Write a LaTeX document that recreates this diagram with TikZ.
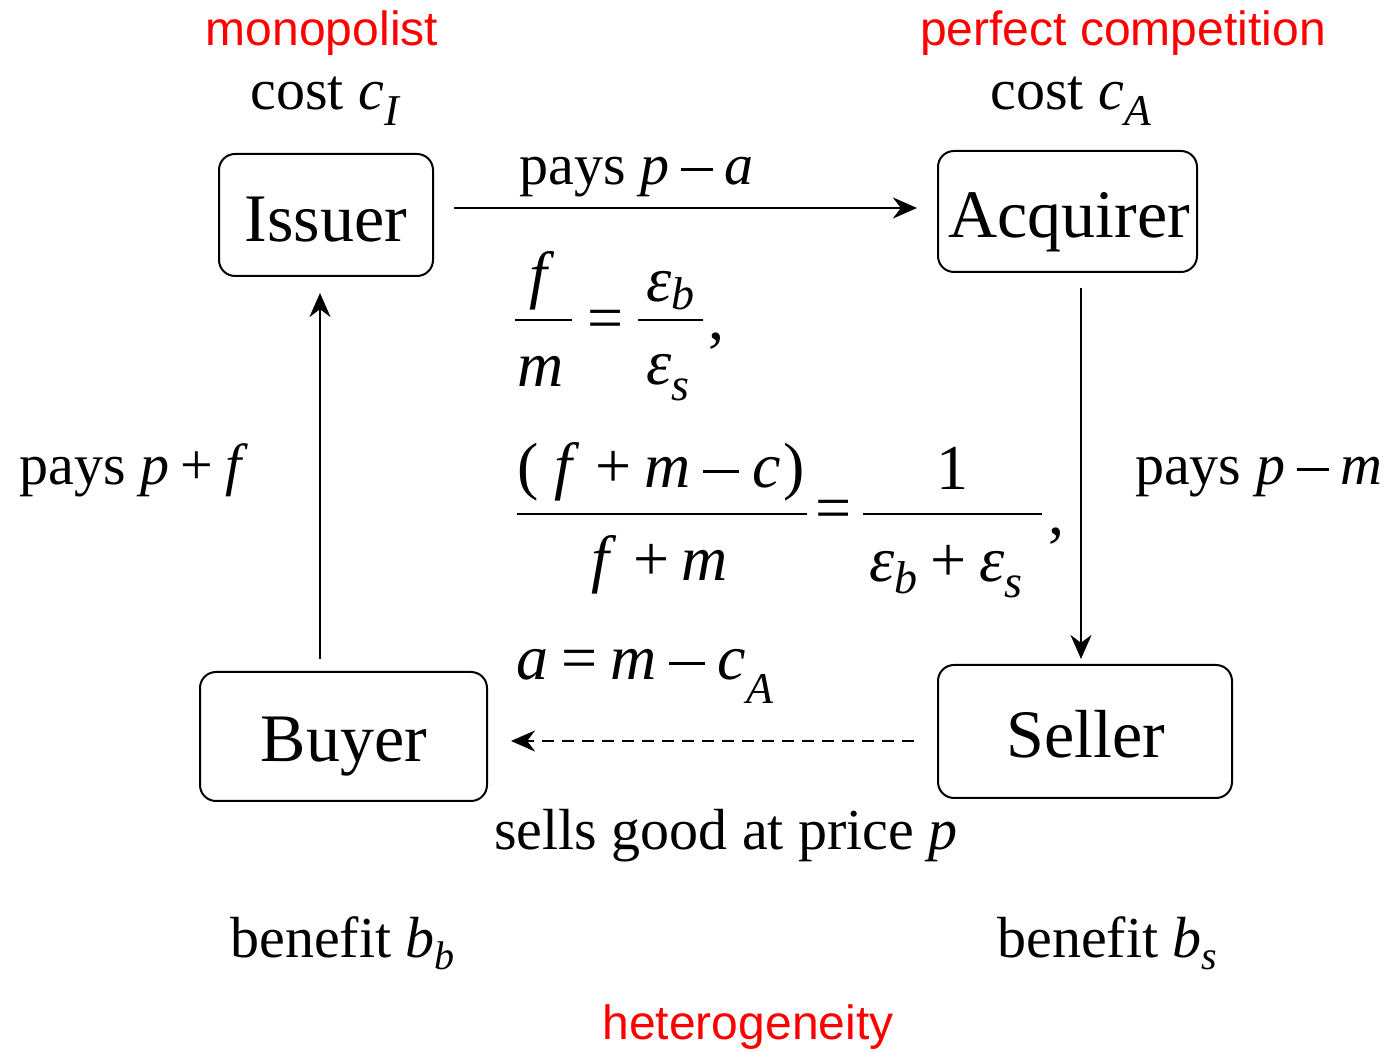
\documentclass[tikz,border=0pt]{standalone}
\usepackage{fontspec}
\setmainfont{Liberation Serif}
\newfontfamily\arialfont{Liberation Sans}
\newcommand{\mi}[1]{\textit{#1}}
\newcommand{\sbs}[3]{\raisebox{-#2}{\fontsize{#1}{#1}\selectfont\mi{#3}}}
\newcommand{\op}[1]{\hspace{0.2em}#1\hspace{0.2em}}
\newcommand{\mminus}{\rule[0.235em]{0.56em}{0.05em}}
\usetikzlibrary{arrows.meta}
\tikzset{
  agent/.style={draw, line width=1pt, rounded corners=8pt, font=\fontsize{34}{40}\selectfont, inner sep=0pt},
  lbl/.style={font=\fontsize{29}{34}\selectfont, inner sep=0pt},
  eqf/.style={font=\fontsize{32}{36}\selectfont, inner sep=0pt},
  redlbl/.style={font=\arialfont\fontsize{24}{28}\selectfont, text=red, inner sep=0pt},
  fbar/.style={line width=1.4pt},
  arr/.style={line width=1.3pt, -{Stealth[length=12pt,width=10.5pt]}},
  darr/.style={line width=1pt, dash pattern=on 6pt off 4pt, -{Stealth[length=12pt,width=10.5pt]}}
}
\begin{document}
\begin{tikzpicture}[x=0.5pt,y=-0.5pt]
\useasboundingbox (0,0) rectangle (1389,1052);
% agents
\node[agent, minimum width=107pt, minimum height=61pt] (iss) at (326,215) {};
\node[agent, minimum width=129.5pt, minimum height=60.5pt] (acq) at (1067.5,211.5) {};
\node[agent, minimum width=143.5pt, minimum height=64.5pt] (buy) at (343.5,736.5) {};
\node[agent, minimum width=147pt, minimum height=66.5pt] (sel) at (1085,731.5) {};
\node[agent, draw=none, anchor=base] (tiss) at (326,242) {Issuer};
\node[agent, draw=none, anchor=base] (tacq) at (1069,238) {Acquirer};
\node[agent, draw=none, anchor=base] (tbuy) at (344,762) {Buyer};
\node[agent, draw=none, anchor=base] (tsel) at (1086,758) {Seller};
% red labels
\node[redlbl, anchor=base] (mono) at (322,46) {monopolist};
\node[redlbl, anchor=base] (perf) at (1123,46) {perfect competition};
\node[redlbl, anchor=base] (het) at (748,1040) {heterogeneity};
% labels
\node[lbl, anchor=base west] (ci) at (250,110) {cost \mi{c}\sbs{22}{8pt}{I}};
\node[lbl, anchor=base west] (ca) at (990,110) {cost \mi{c}\sbs{22}{8pt}{A}};
\node[lbl, anchor=base west] (ppa) at (519,185) {pays \mi{p}\op{\mminus}\mi{a}};
\node[lbl, anchor=base west] (ppf) at (19,485) {pays \mi{p}\op{+}\mi{f}};
\node[lbl, anchor=base east] (ppm) at (1383,485) {pays \mi{p}\op{\mminus}\mi{m}};
\node[eqf, anchor=base west] (eqa) at (516,680) {\mi{a}\op{=}\mi{m}\op{\mminus}\mi{c}\sbs{22}{12pt}{A}};
\node[lbl, anchor=base] (sells) at (726,850) {sells good at price \mi{p}};
\node[lbl, anchor=base west] (bb) at (230,958) {benefit \mi{b}\sbs{20}{6pt}{b}};
\node[lbl, anchor=base west] (bs) at (997,958) {benefit \mi{b}\sbs{20}{6pt}{s}};
% equation 1
\node[eqf, anchor=base] (e1f) at (542,297) {\mi{f}};
\node[eqf, anchor=base] (e1m) at (541,387) {\mi{m}};
\draw[fbar] (515,320) coordinate (e1a) -- (572,320) coordinate (e1b);
\node[eqf] (e1eq) at (606,325) {=};
\draw[fbar] (638,320) coordinate (e1c) -- (703,320) coordinate (e1d);
\node[eqf, anchor=base west] (e1nb) at (646,302) {\mi{ε}\sbs{23}{4pt}{b}};
\node[eqf, anchor=base west] (e1ns) at (646,385) {\mi{ε}\sbs{23}{8pt}{s}};
\node[eqf, anchor=base west] (e1cm) at (708,340) {,};
% equation 2
\node[eqf, anchor=base] (e2n) at (661,488) {(\hspace{0.25em}\mi{f}\hspace{0.05em}\op{+}\mi{m}\op{\mminus}\mi{c}\hspace{0.05em})};
\node[eqf, anchor=base] (e2d) at (660,581) {\mi{f}\hspace{0.05em}\op{+}\mi{m}};
\draw[fbar] (517,514) coordinate (e2a) -- (807,514) coordinate (e2b);
\node[eqf] (e2eq) at (834,515) {=};
\node[eqf, anchor=base] (e2one) at (952,490) {1};
\draw[fbar] (863,514) coordinate (e2c) -- (1042,514) coordinate (e2d);
\node[eqf, anchor=base west] (e2den) at (869,582) {\mi{ε}\sbs{23}{6pt}{b}\op{+}\mi{ε}\sbs{23}{8pt}{s}};
\node[eqf, anchor=base west] (e2cm) at (1048,535) {,};
% connectors
\draw[arr, shorten >=10pt] ([xshift=10pt,yshift=3.5pt]iss.east) coordinate (s1) -- (s1 -| acq.west);
\draw[arr, shorten >=2.5pt] ([xshift=6.75pt,yshift=-7.5pt]acq.south) coordinate (s2) -- (s2 |- sel.north);
\draw[arr, shorten >=8pt] ([xshift=-11.75pt,yshift=6pt]buy.north) coordinate (s3) -- (s3 |- iss.south);
\draw[darr, shorten >=11.5pt] ([xshift=-11.5pt,yshift=-4.75pt]sel.west) coordinate (s4) -- (s4 -| buy.east);
\end{tikzpicture}
\end{document}
